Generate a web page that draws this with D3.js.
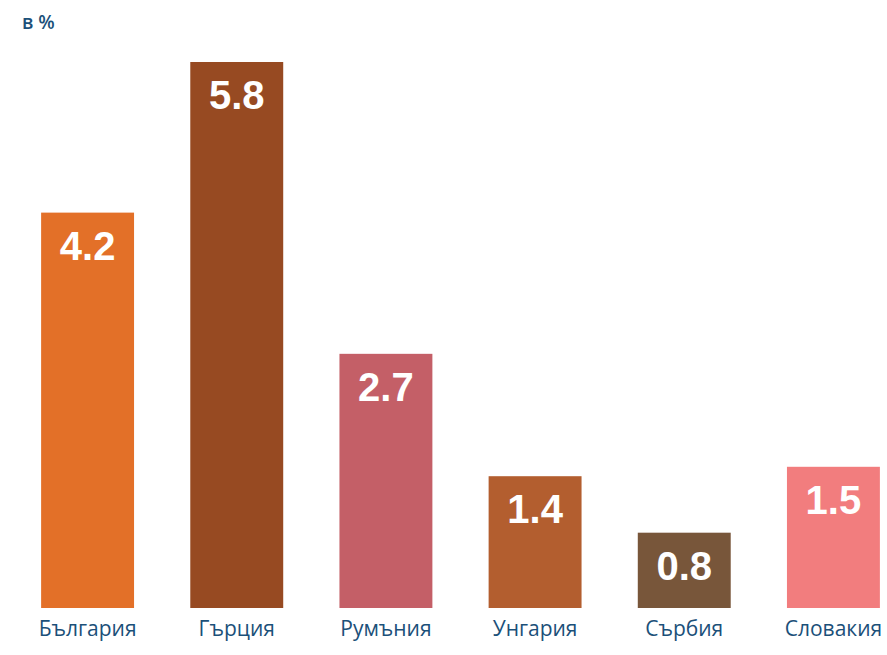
<!DOCTYPE html>
<html>
<head>
<meta charset="utf-8">
<script src="https://cdn.jsdelivr.net/npm/d3@7"></script>
<style>
  body { margin: 0; background: #fff; }
  svg { display: block; }
</style>
</head>
<body>
<div id="chart"></div>
<script>
'use strict';
// data
var countries = ["България", "Гърция", "Румъния", "Унгария", "Сърбия", "Словакия"];
var values = [4.2, 5.8, 2.7, 1.4, 0.8, 1.5];
var colors = ["#E37028", "#974A22", "#C45F67", "#B35E2F", "#78563A", "#F27D7E"];
var unitLabel = "в %";

var width = 887, height = 655;
var baseline = 608;

var svg = d3.select("#chart").append("svg")
    .attr("width", width)
    .attr("height", height);

var x = d3.scaleBand()
    .domain(countries)
    .range([13, 908])
    .paddingInner(0.377)
    .paddingOuter(0.1885);

var y = d3.scaleLinear()
    .domain([0, 5.8])
    .range([baseline, 62]);

// unit label
svg.append("text")
    .attr("x", 22)
    .attr("y", 29)
    .attr("fill", "#1b5079")
    .attr("font-family", "'Open Sans', sans-serif")
    .attr("font-weight", 600)
    .attr("font-size", 19)
    .text(unitLabel);

// bars
svg.selectAll(".bar")
    .data(values)
    .enter().append("rect")
    .attr("class", "bar")
    .attr("x", function (d, i) { return x(countries[i]); })
    .attr("width", x.bandwidth())
    .attr("y", function (d) { return y(d); })
    .attr("height", function (d) { return baseline - y(d); })
    .attr("fill", function (d, i) { return colors[i]; });

// value labels inside bars
svg.selectAll(".val")
    .data(values)
    .enter().append("text")
    .attr("class", "val")
    .attr("x", function (d, i) { return x(countries[i]) + x.bandwidth() / 2; })
    .attr("y", function (d) { return y(d) + 47; })
    .attr("text-anchor", "middle")
    .attr("fill", "#fff")
    .attr("font-family", "'Liberation Sans', Arial, sans-serif")
    .attr("font-weight", "bold")
    .attr("font-size", 40)
    .text(function (d) { return d.toFixed(1); });

// x axis
var xAxis = svg.append("g")
    .attr("transform", "translate(0," + baseline + ")")
    .call(d3.axisBottom(x).tickSize(0).tickPadding(13));
xAxis.select(".domain").remove();
xAxis.selectAll("text")
    .attr("fill", "#1b5079")
    .attr("font-family", "'Open Sans', sans-serif")
    .attr("font-size", 21);
</script>
</body>
</html>
